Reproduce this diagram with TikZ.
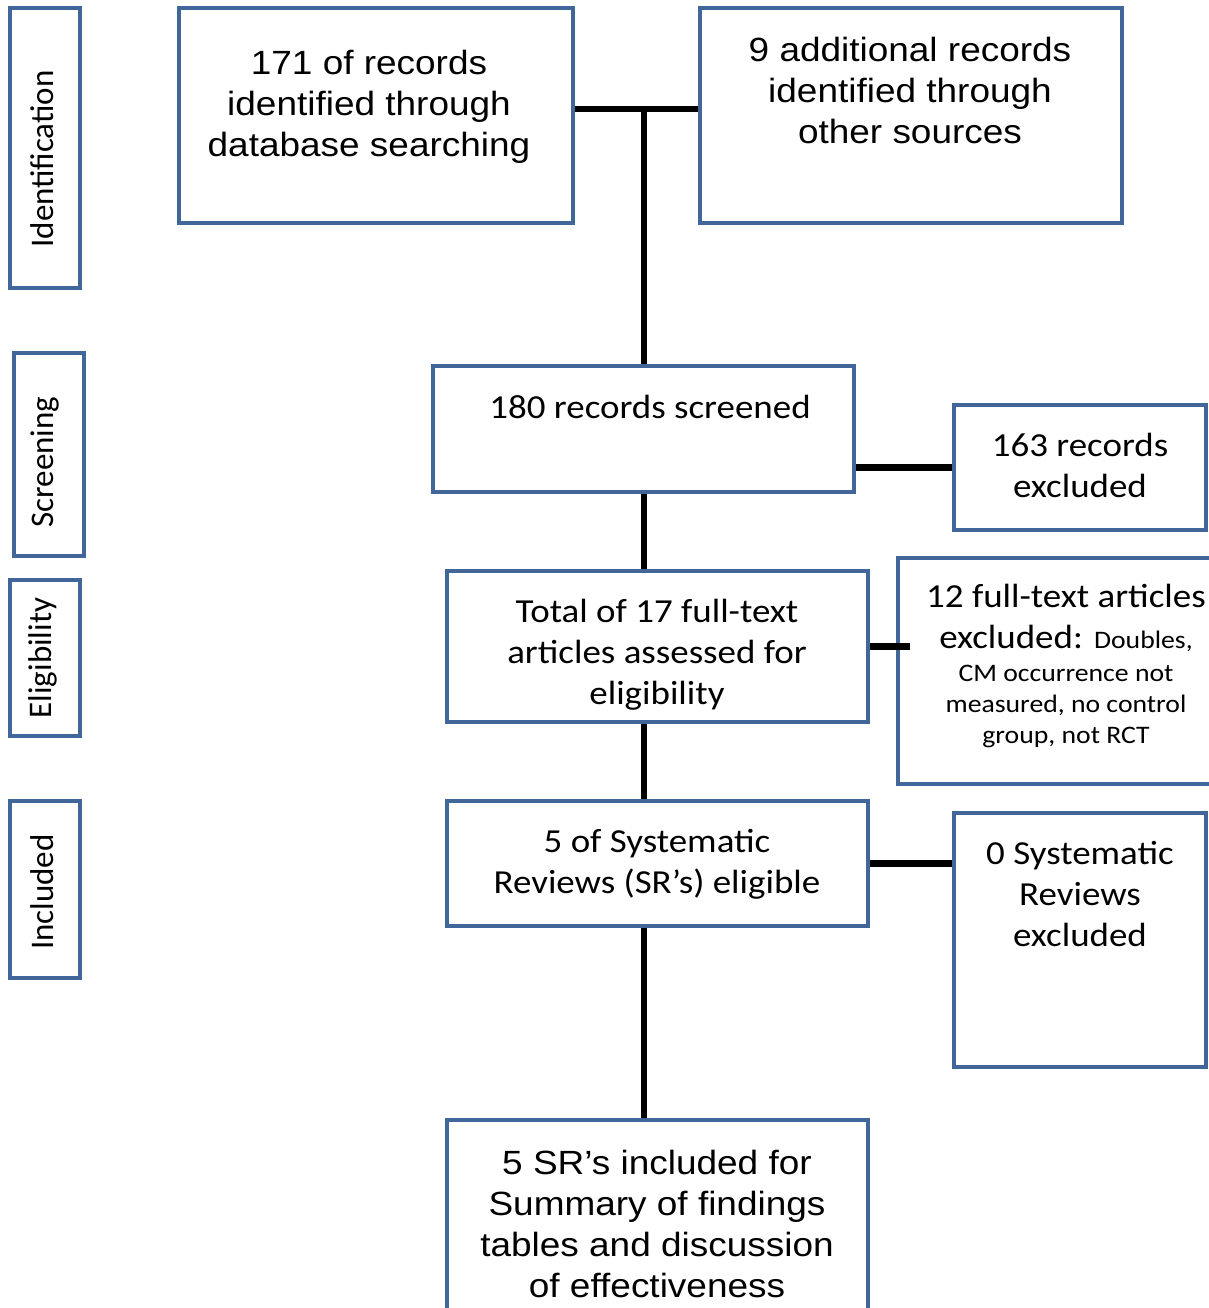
\documentclass[tikz,border=0pt]{standalone}
\usepackage{fontspec}
\setmainfont{Carlito}[FakeStretch=1.1]
\newfontfamily\arialf{Liberation Sans}[FakeStretch=1.1]
\newfontfamily\calv{Carlito}
\definecolor{boxblue}{RGB}{65,102,154}
\begin{document}
\begin{tikzpicture}[x=0.5pt,y=-0.5pt,
  box/.style={draw=boxblue, line width=1.7pt, rectangle, inner sep=0pt},
  conn/.style={line width=3.2pt, black},
  txt/.style={align=center, inner sep=0pt, font=\fontsize{16.8}{20.5}\selectfont},
  atxt/.style={align=center, inner sep=0pt, font=\arialf\fontsize{16.8}{20.5}\selectfont},
  stxt/.style={align=center, inner sep=0pt, font=\fontsize{12.6}{15.5}\selectfont},
  vtxt/.style={inner sep=0pt, rotate=90, font=\calv\fontsize{16.5}{19}\selectfont}]
\useasboundingbox (0,0) rectangle (1209,1308);
\clip (0,0) rectangle (1209,1308);
% side boxes
\node[box, minimum width=35pt, minimum height=140pt] (S1) at (45,148) {};
\node[box, minimum width=35pt, minimum height=101.5pt] (S2) at (49,454.5) {};
\node[box, minimum width=35pt, minimum height=78pt] (S3) at (45,658) {};
\node[box, minimum width=35pt, minimum height=88.5pt] (S4) at (45,889.5) {};
\node[vtxt] (S1t) at (42,159) {Identification};
\node[vtxt] (S2t) at (45,462) {Screening};
\node[vtxt] (S3t) at (43,658) {Eligibility};
\node[vtxt] (S4t) at (42,892) {Included};
% main boxes
\node[box, minimum width=197pt, minimum height=107.5pt] (A) at (376,115.5) {};
\node[box, minimum width=211pt, minimum height=107.5pt] (B) at (911,115.5) {};
\node[box, minimum width=210.5pt, minimum height=63pt] (C) at (643.5,429) {};
\node[box, minimum width=126pt, minimum height=62.5pt] (D) at (1080,467.5) {};
\node[box, minimum width=210.5pt, minimum height=75.5pt] (E) at (657.5,646.5) {};
\node[box, minimum width=171pt, minimum height=113pt] (F) at (1069,671) {};
\node[box, minimum width=210.5pt, minimum height=62.5pt] (G) at (657.5,863.5) {};
\node[box, minimum width=126pt, minimum height=127pt] (H) at (1080,940) {};
\node[box, minimum width=210.5pt, minimum height=110pt] (I) at (657.5,1230) {};
% texts
\node[atxt] (At) at (369,107) {171 of records\\identified through\\database searching};
\node[atxt] (Bt) at (910,90) {9 additional records\\identified through\\other sources};
\node[txt] (Ct) at (650,407) {180 records screened};
\node[txt] (Dt) at (1080,465) {163 records\\excluded};
\node[txt] (Et) at (657,655) {Total of 17 full-text\\articles assessed for\\eligibility};
\node[txt] (Ft) at (1066,618) {12 full-text articles\\excluded: {\fontsize{12.6}{15.5}\selectfont Doubles,}};
\node[stxt] (Fs) at (1066,706) {CM occurrence not\\measured, no control\\group, not RCT};
\node[txt] (Gt) at (657,864) {5 of Systematic\\Reviews (SR’s) eligible};
\node[txt] (Ht) at (1080,894) {0 Systematic\\Reviews\\excluded};
\node[atxt] (It) at (657,1224) {5 SR’s included for\\Summary of findings\\tables and discussion\\of effectiveness};
% connectors
\coordinate (J) at (644,109);
\coordinate (Fin) at ([xshift=7pt]F.west);
\draw[conn] (A.east |- J) -- (B.west |- J);
\draw[conn] (J) -- (J |- C.north);
\draw[conn] (C.east |- D.west) -- (D.west);
\draw[conn] (J |- C.south) -- (J |- E.north);
\draw[conn] (E.east) -- (Fin |- E.east);
\draw[conn] (J |- E.south) -- (J |- G.north);
\draw[conn] (G.east) -- (H.west |- G.east);
\draw[conn] (J |- G.south) -- (J |- I.north);
\end{tikzpicture}
\end{document}
